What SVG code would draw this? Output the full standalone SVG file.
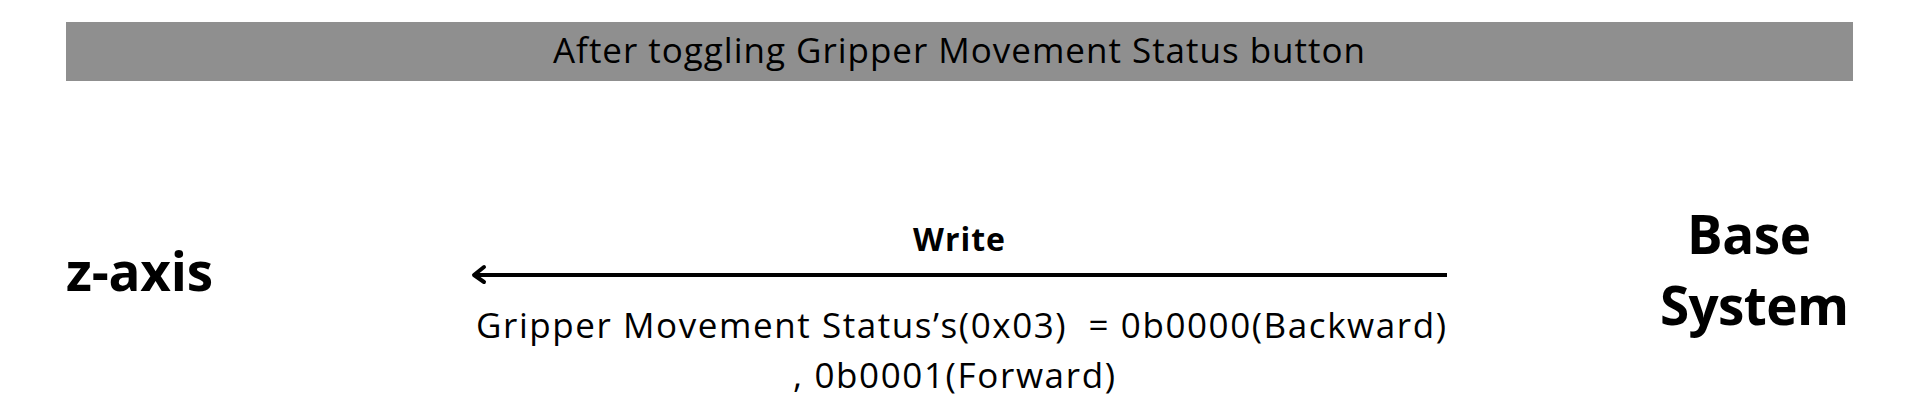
<svg xmlns="http://www.w3.org/2000/svg" width="1920" height="414" viewBox="0 0 1920 414">
<style>
.t{font-family:"Open Sans","Liberation Sans",sans-serif;fill:#000;white-space:pre}
.b{font-weight:700}
</style>
<rect width="1920" height="414" fill="#fff"/>
<g id="header">
<rect x="66" y="22" width="1787" height="59" fill="#8f8f8f"/>
<text class="t" x="553" y="63" font-size="35" textLength="812" lengthAdjust="spacing">After toggling Gripper Movement Status button</text>
</g>
<g id="z-axis">
<text class="t b" x="66" y="291" font-size="53" textLength="147" lengthAdjust="spacing">z-axis</text>
</g>
<g id="base-system">
<text class="t b" x="1687" y="254" font-size="53" textLength="124" lengthAdjust="spacing">Base</text>
<text class="t b" x="1660" y="325" font-size="53" textLength="189" lengthAdjust="spacing">System</text>
</g>
<g id="connectors">
<line x1="1447" y1="275" x2="474" y2="275" stroke="#000" stroke-width="4"/>
<polyline points="484,267 474,275 484,282" fill="none" stroke="#000" stroke-width="4" stroke-linecap="round" stroke-linejoin="round"/>
<text class="t b" x="913" y="251" font-size="32" textLength="92" lengthAdjust="spacing">Write</text>
<text class="t" x="476" y="338" font-size="35" textLength="970" lengthAdjust="spacing">Gripper Movement Status’s(0x03)  = 0b0000(Backward)</text>
<text class="t" x="793" y="388" font-size="35" textLength="322" lengthAdjust="spacing">, 0b0001(Forward)</text>
</g>
</svg>
